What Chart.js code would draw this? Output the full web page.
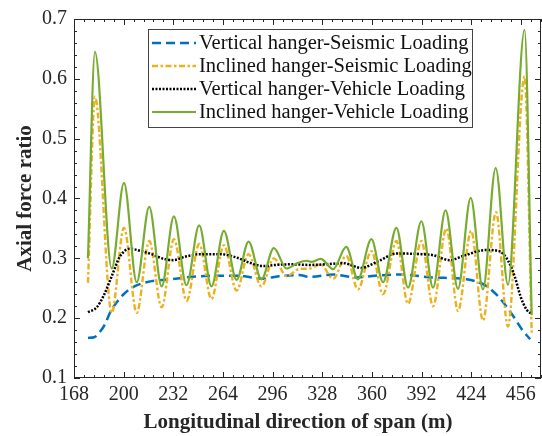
<!DOCTYPE html>
<html>
<head>
<meta charset="utf-8">
<script src="https://cdn.jsdelivr.net/npm/chart.js@4.4.1/dist/chart.umd.min.js"></script>
<style>
  html, body { margin: 0; padding: 0; background: #fff; }
  #wrap { width: 542px; height: 436px; }
</style>
</head>
<body>
<div id="wrap"><canvas id="c" width="542" height="436"></canvas></div>
<script>
// Valores (x em m, y = razão de força axial)
const spanTicks = [168, 200, 232, 264, 296, 328, 360, 392, 424, 456];
const ratioTicks = [0.1, 0.2, 0.3, 0.4, 0.5, 0.6, 0.7];

const vertSeisX = [177, 181, 185, 188, 191.2, 196, 200, 206, 214.7, 230, 249, 266, 278, 289, 300, 313, 320, 335, 350, 362, 378, 399, 421, 433.7, 440, 446.6, 452, 457, 462];
const vertSeisY = [0.167, 0.168, 0.178, 0.19, 0.209, 0.228, 0.24, 0.252, 0.26, 0.265, 0.27, 0.271, 0.27, 0.266, 0.27, 0.272, 0.269, 0.273, 0.268, 0.271, 0.273, 0.268, 0.265, 0.254, 0.24, 0.22, 0.2, 0.18, 0.165];

const inclSeisX = [177, 181.5, 192.3, 200.2, 208.4, 216.5, 224.5, 232.4, 240.6, 248.7, 256.6, 264.6, 272.8, 280.5, 288.8, 296.8, 305, 313, 320, 327, 335, 343.5, 351, 359.7, 367.2, 375.8, 383.3, 391.9, 399.4, 408, 415.5, 424, 431.6, 440, 447.7, 458.4, 463];
const inclSeisY = [0.259, 0.57, 0.209, 0.351, 0.209, 0.329, 0.218, 0.332, 0.229, 0.324, 0.232, 0.322, 0.246, 0.307, 0.253, 0.300, 0.27, 0.282, 0.283, 0.29, 0.266, 0.304, 0.248, 0.312, 0.24, 0.329, 0.224, 0.329, 0.22, 0.35, 0.212, 0.346, 0.196, 0.377, 0.186, 0.604, 0.175];

const vertVehX = [177, 182.6, 187, 192.3, 197.6, 204, 210, 218, 226, 232, 240, 250, 262, 272, 282, 290, 298, 308, 320, 330, 341.5, 353, 364, 375.8, 392, 400, 410, 420, 433.7, 442, 448, 452, 456, 459.5, 463];
const vertVehY = [0.21, 0.218, 0.237, 0.27, 0.303, 0.316, 0.313, 0.307, 0.299, 0.297, 0.303, 0.307, 0.307, 0.302, 0.292, 0.287, 0.289, 0.29, 0.289, 0.29, 0.292, 0.284, 0.295, 0.308, 0.307, 0.305, 0.297, 0.305, 0.314, 0.312, 0.295, 0.27, 0.235, 0.215, 0.207];

const inclVehX = [177, 181.5, 192.3, 200.2, 208.4, 216.5, 224.5, 232.4, 240.5, 248.7, 256.6, 264.6, 272.8, 280.5, 288.8, 296.8, 305, 312, 318, 321, 327, 335, 343.5, 351, 359.7, 367.2, 375.8, 383.3, 391.9, 399.4, 407.5, 415.5, 423.7, 431.6, 439.8, 447.7, 458.4, 463];
const inclVehY = [0.30, 0.645, 0.283, 0.426, 0.26, 0.386, 0.253, 0.370, 0.255, 0.355, 0.253, 0.346, 0.264, 0.328, 0.265, 0.317, 0.283, 0.292, 0.296, 0.294, 0.299, 0.282, 0.319, 0.265, 0.332, 0.26, 0.351, 0.251, 0.362, 0.251, 0.38, 0.249, 0.401, 0.248, 0.451, 0.256, 0.682, 0.205];

const serie = (xs, ys) => xs.map((x, i) => ({ x, y: ys[i] }));

const FONTE = '"Liberation Serif", "Times New Roman", serif';
const EIXO = '#262626';
const TITULO_X = 'Longitudinal direction of span (m)';

// moldura com ticks para dentro (estilo MATLAB, box on) + título do eixo x
const moldura = {
  id: 'moldura',
  afterDraw(chart) {
    const { ctx, chartArea: a, scales: { x, y } } = chart;
    ctx.save();
    ctx.strokeStyle = EIXO;
    ctx.lineWidth = 1;
    ctx.strokeRect(a.left + 0.5, a.top + 0.5, a.right - a.left - 1, a.bottom - a.top - 1);
    ctx.beginPath();
    const tickX = (v, len) => {
      const px = Math.round(x.getPixelForValue(v)) + 0.5;
      ctx.moveTo(px, a.bottom); ctx.lineTo(px, a.bottom - len);
      ctx.moveTo(px, a.top); ctx.lineTo(px, a.top + len);
    };
    const tickY = (v, len) => {
      const py = Math.round(y.getPixelForValue(v)) + 0.5;
      ctx.moveTo(a.left, py); ctx.lineTo(a.left + len, py);
      ctx.moveTo(a.right, py); ctx.lineTo(a.right - len, py);
    };
    for (let k = 0; 168 + k * 6.4 <= x.max; k++) tickX(168 + k * 6.4, k % 5 === 0 ? 6 : 3);
    for (let k = 0; k <= 30; k++) tickY(0.1 + k * 0.02, k % 5 === 0 ? 6 : 3);
    ctx.stroke();

    ctx.fillStyle = EIXO;
    ctx.font = `bold 21px ${FONTE}`;
    ctx.textAlign = 'center';
    ctx.textBaseline = 'middle';
    ctx.fillText(TITULO_X, 298, 423);
    ctx.restore();
  },
};

// legenda desenhada dentro da área do gráfico
const legenda = {
  id: 'legenda',
  afterDatasetsDraw(chart) {
    const { ctx } = chart;
    const bx = 148, by = 29, bw = 324, bh = 98;
    ctx.save();
    ctx.fillStyle = '#fff';
    ctx.fillRect(bx, by, bw, bh);
    ctx.strokeStyle = '#444';
    ctx.lineWidth = 1;
    ctx.strokeRect(bx + 0.5, by + 0.5, bw, bh);
    ctx.font = `20.5px ${FONTE}`;
    ctx.textBaseline = 'middle';
    chart.data.datasets.forEach((d, i) => {
      const cy = by + 14 + i * 23;
      ctx.strokeStyle = d.borderColor;
      ctx.lineWidth = d.borderWidth;
      ctx.setLineDash(d.borderDash || []);
      ctx.beginPath();
      ctx.moveTo(152, cy); ctx.lineTo(196, cy);
      ctx.stroke();
      ctx.setLineDash([]);
      ctx.fillStyle = '#111';
      ctx.fillText(d.label, 199, cy + 1);
    });
    ctx.restore();
  },
};

const linha = (label, dados, cor, dash, largura, ordem) => ({
  label, data: dados, borderColor: cor, borderDash: dash, borderWidth: largura,
  pointRadius: 0, fill: false, cubicInterpolationMode: 'monotone', order: ordem,
});

new Chart(document.getElementById('c'), {
  type: 'line',
  data: {
    datasets: [
      linha('Vertical hanger-Seismic Loading', serie(vertSeisX, vertSeisY), '#0072BD', [9, 5], 2.5, 4),
      linha('Inclined hanger-Seismic Loading', serie(inclSeisX, inclSeisY), '#EDB120', [6, 2.5, 2.5, 2.5], 2.4, 3),
      linha('Vertical hanger-Vehicle Loading', serie(vertVehX, vertVehY), '#000000', [2, 1.5], 2.5, 2),
      linha('Inclined hanger-Vehicle Loading', serie(inclVehX, inclVehY), '#77AC30', [], 2.2, 1),
    ],
  },
  options: {
    responsive: false, animation: false, devicePixelRatio: 1,
    layout: { padding: { top: 19, right: 1, left: 0, bottom: 0 } },
    plugins: { legend: { display: false }, tooltip: { enabled: false } },
    scales: {
      x: {
        type: 'linear', min: 168, max: 469,
        afterBuildTicks: (s) => { s.ticks = spanTicks.map((v) => ({ value: v })); },
        afterFit: (s) => { s.height = 58; },
        grid: { display: false, drawTicks: false }, border: { display: false },
        ticks: { color: EIXO, padding: 5, font: { family: FONTE, size: 20 }, maxRotation: 0, autoSkip: false },
        title: { display: false },
      },
      y: {
        type: 'linear', min: 0.1, max: 0.7,
        afterBuildTicks: (s) => { s.ticks = ratioTicks.map((v) => ({ value: v })); },
        afterFit: (s) => { s.width = 74; },
        grid: { display: false, drawTicks: false }, border: { display: false },
        ticks: { color: EIXO, padding: 7, font: { family: FONTE, size: 20 }, callback: (v) => v.toFixed(1) },
        title: { display: true, text: 'Axial force ratio', color: EIXO, padding: { top: 13, bottom: 0 }, font: { family: FONTE, size: 21, weight: 'bold' } },
      },
    },
  },
  plugins: [moldura, legenda],
});
</script>
</body>
</html>
